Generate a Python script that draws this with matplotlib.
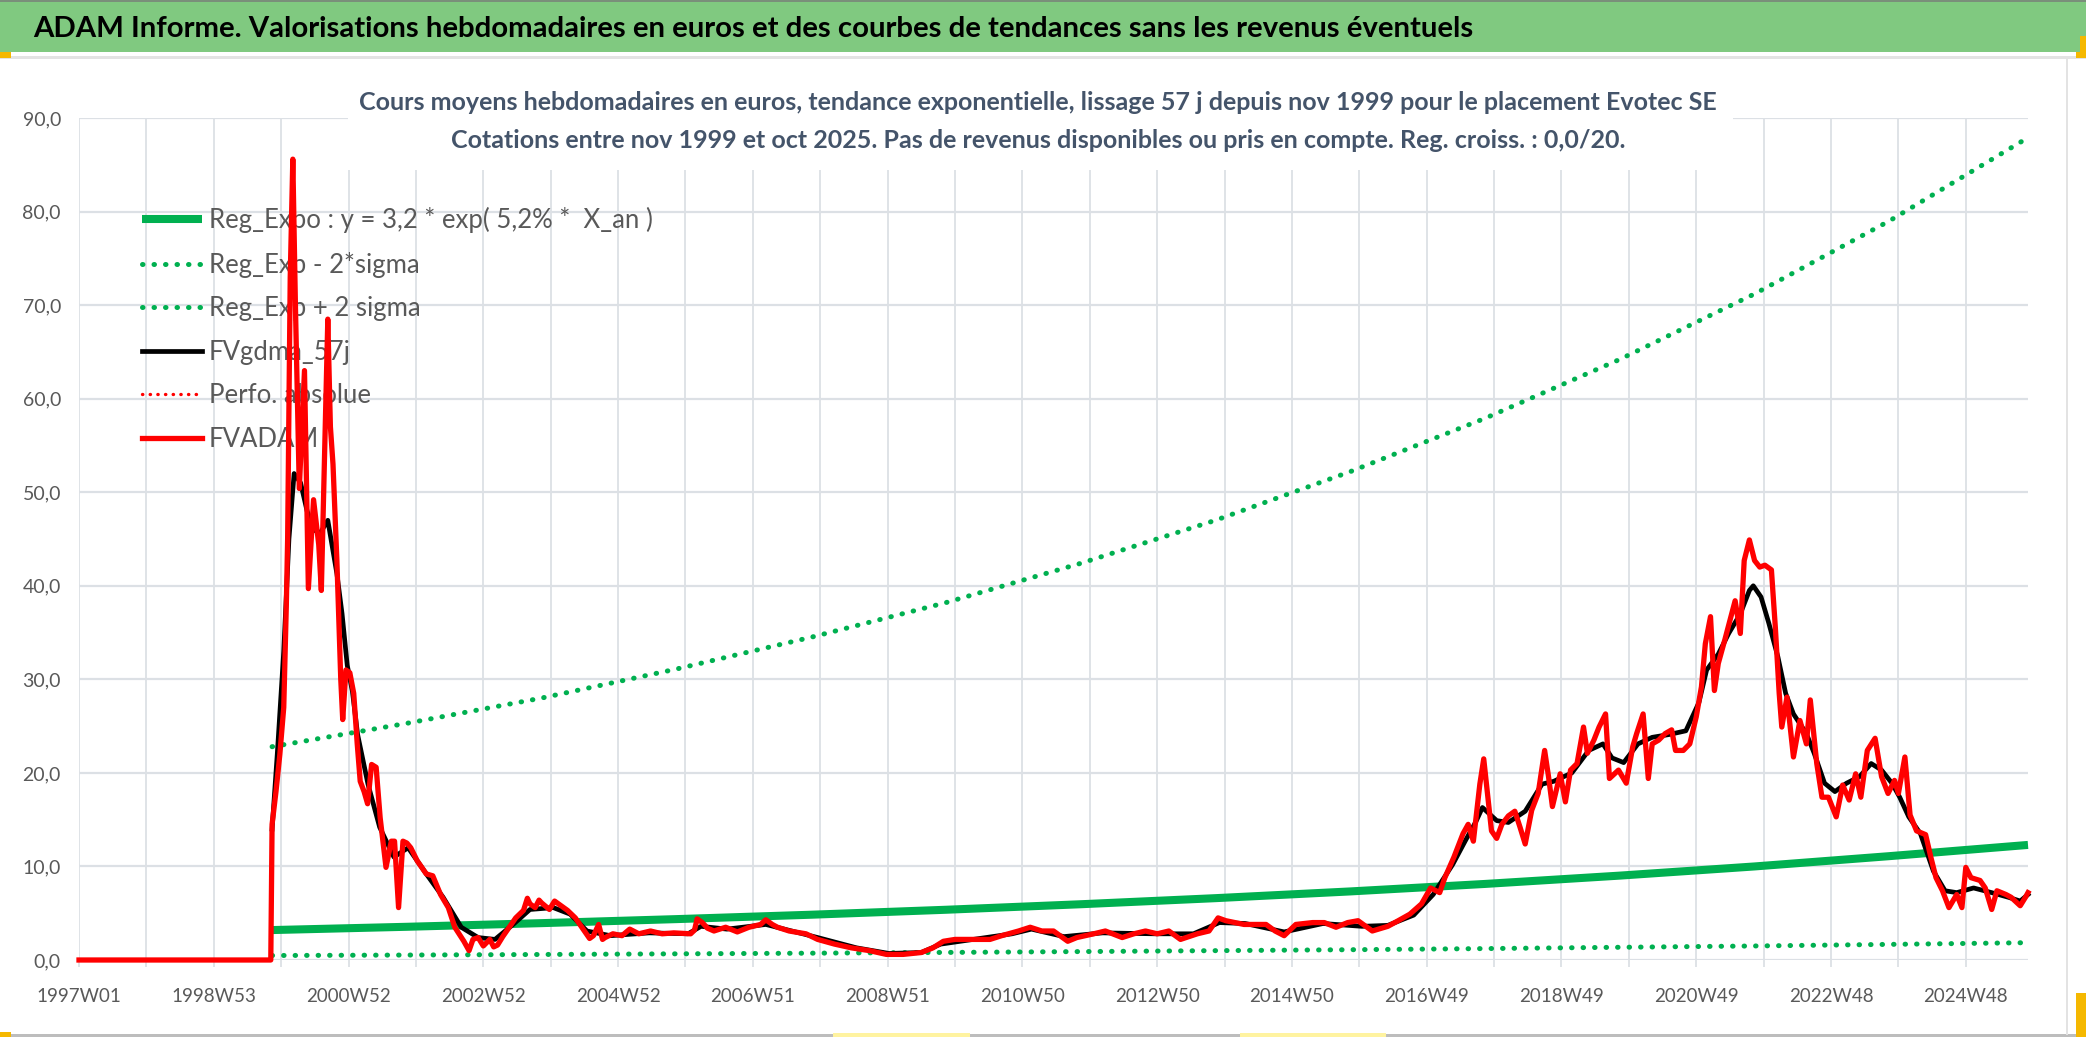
import matplotlib
matplotlib.use("Agg")
import matplotlib.pyplot as plt
from matplotlib import font_manager
from matplotlib.patches import Rectangle
from matplotlib.ticker import FixedLocator, FuncFormatter, MultipleLocator

# ---- données (x = numéro de semaine depuis 1997W01) ----
tick_labels = ["1997W01", "1998W53", "2000W52", "2002W52", "2004W52", "2006W51",
               "2008W51", "2010W50", "2012W50", "2014W50", "2016W49", "2018W49",
               "2020W49", "2022W48", "2024W48"]
n_weeks = 1504

fv_weeks = [0, 148, 149, 152, 155, 158, 160, 161, 163, 165, 167, 170, 174, 177, 181,
            185, 187, 192, 194, 196, 199, 202, 203.5, 206, 209, 212, 214.7, 217, 220,
            222.7, 225.8, 229.3, 232.4, 236.9, 241, 243.5, 246.6, 250, 253, 256, 261,
            268, 273, 279, 285, 290, 297, 301, 304, 308, 312, 317, 320, 323, 327, 330,
            337, 343, 346, 348, 352, 355, 357, 363, 367, 370, 377, 383, 390, 394, 397,
            401, 404, 406, 412, 419, 425, 432, 441, 450, 459, 472, 475, 477, 481, 485,
            490, 499, 508, 517, 526, 530, 535, 539, 548, 561, 570, 583, 596, 610, 623,
            636, 650, 659, 667, 676, 690, 703, 712, 725, 734, 743, 752, 763, 770, 783,
            792, 805, 814, 823, 832, 841, 850, 863, 872, 879, 885, 899, 916, 923, 930,
            939, 952, 961, 970, 979, 987, 998, 1010, 1018, 1027, 1036, 1043, 1050, 1054,
            1061, 1068, 1072, 1076, 1081, 1084, 1087, 1090, 1094, 1098, 1103, 1108, 1112,
            1116, 1121, 1126, 1131, 1134, 1137, 1143, 1147, 1151, 1156, 1161, 1164, 1169,
            1173, 1178, 1181, 1188, 1194, 1199, 1202, 1207, 1211, 1214, 1219, 1224, 1229,
            1232, 1238, 1243, 1248, 1252, 1255, 1259, 1262, 1265, 1270, 1274, 1278, 1282,
            1285, 1289, 1293, 1297, 1301, 1306, 1309, 1312, 1314, 1318, 1323, 1328, 1333,
            1336, 1341, 1345, 1350, 1356, 1361, 1366, 1371, 1375, 1380, 1386, 1391, 1396,
            1401, 1404, 1409, 1413, 1418, 1425, 1429, 1433, 1438, 1443, 1449, 1453, 1456,
            1460, 1467, 1471, 1476, 1480, 1487, 1491, 1498, 1502, 1504]
fv_values = [0, 0, 14.5, 18, 22, 27, 38, 45, 73, 85.6, 70, 50.4, 63, 39.7, 49.2,
             44.4, 39.5, 68.5, 57, 53, 42.7, 30, 25.7, 31, 30.7, 28.5, 23.1, 19.1, 18,
             16.7, 20.9, 20.6, 15.2, 9.9, 12.7, 12.7, 5.6, 12.7, 12.5, 12.0, 10.6,
             9.2, 9.0, 7.0, 5.6, 3.5, 2.0, 1.0, 2.2, 2.4, 1.5, 2.2, 1.4, 1.6, 2.5, 3.1,
             4.5, 5.3, 6.6, 6.0, 5.6, 6.4, 6.1, 5.4, 6.3, 6.0, 5.3, 4.5, 3.1, 2.3, 2.6,
             3.8, 2.2, 2.4, 2.8, 2.6, 3.3, 2.8, 3.1, 2.8, 2.9, 2.8, 3.2, 4.4, 4.0, 3.4,
             3.1, 3.5, 3.0, 3.5, 3.8, 4.3, 3.8, 3.5, 3.1, 2.8, 2.2, 1.7, 1.3, 1.0, 0.6,
             0.6, 0.8, 1.3, 2.0, 2.2, 2.2, 2.2, 2.6, 3.1, 3.5, 3.1, 3.1, 2.0, 2.4, 2.8,
             3.1, 2.4, 2.8, 3.1, 2.8, 3.1, 2.2, 2.8, 3.1, 4.5, 4.2, 3.8, 3.8, 3.1, 2.6,
             3.8, 4.0, 4.0, 3.5, 4.0, 4.2, 3.1, 3.6, 4.2, 4.9, 6.0, 7.7, 7.2, 8.8,
             11.0, 13.5, 14.5, 12.7, 18.8, 21.5, 17.7, 13.8, 13.0, 14.5, 15.4, 15.9, 14.2,
             12.4, 16.0, 17.8, 22.4, 19.6, 16.4, 19.9, 16.9, 20.3, 21.0, 24.9, 22.1, 23.5,
             24.9, 26.3, 19.4, 20.3, 18.9, 22.8, 24.2, 26.3, 19.4, 23.1, 23.5, 24.2, 24.6,
             22.4, 22.4, 23.1, 26.0, 29.2, 33.8, 36.7, 28.8, 31.7, 34.2, 36.3, 38.4, 34.9,
             42.7, 44.9, 42.7, 42.0, 42.2, 41.7, 35.6, 28.5, 24.9, 28.1, 21.7, 25.6, 23.1,
             27.8, 21.0, 17.4, 17.4, 15.3, 18.7, 17.1, 19.9, 17.4, 22.4, 23.7, 19.6, 17.8,
             19.2, 17.8, 21.7, 15.5, 13.8, 13.4, 11.0, 8.8, 7.4, 5.6, 7.0, 5.6, 9.9,
             8.8, 8.5, 7.7, 5.4, 7.4, 7.0, 6.7, 5.8, 6.7, 7.2]

gdma_weeks = [149, 153, 158, 162, 166, 171, 176, 181, 186, 192, 199, 203, 207, 211,
              215, 223, 232, 243, 254, 268, 281, 295, 308, 321, 335, 348, 366, 379, 392,
              410, 440, 470, 480, 500, 530, 550, 570, 600, 625, 650, 665, 690, 720, 735,
              760, 790, 830, 860, 880, 900, 930, 960, 990, 1010, 1030, 1045, 1060, 1070,
              1078, 1083, 1094, 1103, 1116, 1129, 1138, 1152, 1165, 1176, 1183, 1192, 1203,
              1214, 1227, 1240, 1250, 1256, 1265, 1273, 1282, 1289, 1292, 1298, 1304, 1311,
              1317, 1323, 1333, 1339, 1347, 1355, 1364, 1374, 1383, 1391, 1399, 1405, 1412,
              1421, 1431, 1440, 1449, 1462, 1476, 1489, 1498, 1504]
gdma_values = [14, 22, 33, 45, 52, 51, 48, 46, 45.6, 47, 41.3, 37, 31.5, 28.7,
               24.1, 18.8, 14.2, 11, 12, 9.2, 6.7, 3.5, 2.4, 2.2, 3.8, 5.4, 5.6, 4.9, 3.1,
               2.6, 2.9, 2.8, 3.6, 3.3, 3.8, 3.1, 2.4, 1.3, 0.7, 0.8, 1.7, 2.2, 2.8, 3.3,
               2.5, 2.9, 2.8, 2.8, 4.0, 3.9, 3.0, 3.9, 3.6, 3.7, 4.8, 7.0, 10.2, 12.8,
               14.8, 16.3, 14.9, 14.7, 15.9, 18.8, 19.1, 20.0, 22.4, 23.1, 21.6, 21.1, 23.1,
               23.8, 24.1, 24.5, 27.5, 31.0, 32.7, 34.9, 37.0, 39.5, 40.0, 38.8, 36.0, 32.4,
               28.5, 26.3, 24.2, 22.1, 18.9, 18.0, 18.9, 19.6, 21.0, 20.3, 18.9, 17.4, 15.3,
               13.5, 9.5, 7.4, 7.2, 7.7, 7.2, 6.7, 6.3, 7.0]

reg_weeks = [149, 253, 357, 461, 565, 669, 773, 877, 981, 1085, 1189, 1293, 1397, 1504]
reg_expo = [3.2, 3.55, 3.94, 4.37, 4.84, 5.37, 5.96, 6.61, 7.33, 8.13, 9.02, 10.0, 11.1, 12.3]
reg_minus = [0.48, 0.53, 0.59, 0.66, 0.73, 0.81, 0.90, 1.00, 1.10, 1.22, 1.36, 1.50, 1.67, 1.85]
reg_plus = [22.8, 25.3, 28.0, 31.1, 34.5, 38.2, 42.4, 47.0, 52.2, 57.9, 64.2, 71.2, 79.0, 87.9]

labels = ["Reg_Expo : y = 3,2 * exp( 5,2% *  X_an )", "Reg_Exp - 2*sigma",
          "Reg_Exp + 2 sigma", "FVgdma_57j", "Perfo. absolue", "FVADAM"]

title = ("ADAM Informe. Valorisations hebdomadaires en euros et des courbes de "
         "tendances sans les revenus éventuels")
subtitle1 = ("Cours moyens hebdomadaires en euros, tendance exponentielle, lissage 57 j "
             "depuis nov 1999 pour le placement Evotec SE")
subtitle2 = ("Cotations entre nov 1999 et oct 2025. Pas de revenus disponibles ou pris "
             "en compte. Reg. croiss. : 0,0/20.")

# ---- style ----
names = {f.name for f in font_manager.fontManager.ttflist}
FONT = "Lato" if "Lato" in names else "DejaVu Sans"
plt.rcParams["font.family"] = [FONT, "DejaVu Sans"]

GREEN = "#00B050"
RED = "#FF0000"
GRID = "#DCE0E5"
TXT = "#595959"
SUB = "#44546A"

W, H = 2086, 1037
fig = plt.figure(figsize=(W / 100, H / 100), dpi=100)


def fx(px):
    return px / W


def fy(py):
    return 1 - py / H


# bandeau de titre et cadre
fig.patches.append(Rectangle((0, fy(52)), 1, 52 / H, transform=fig.transFigure,
                             facecolor="#80C980", edgecolor="none"))
fig.patches.append(Rectangle((0, fy(2)), 1, 2 / H, transform=fig.transFigure,
                             facecolor="#7A8F7A", edgecolor="none"))
fig.patches.append(Rectangle((0, fy(59)), 1, 3 / H, transform=fig.transFigure,
                             facecolor="#E3E3E3", edgecolor="none"))
fig.patches.append(Rectangle((0, fy(1037)), 1, 3 / H, transform=fig.transFigure,
                             facecolor="#BDBDBD", edgecolor="none"))
fig.patches.append(Rectangle((fx(2066), fy(1035)), 2 / W, (1035 - 59) / H,
                             transform=fig.transFigure, facecolor="#E3E3E3",
                             edgecolor="none"))
for x0, y0, w, h, c in [(0, 58, 11, 6, "#F5B800"), (2076, 58, 10, 6, "#F5B800"),
                        (2080, 52, 6, 16, "#F5B800"), (2076, 1037, 10, 44, "#F5B800"),
                        (0, 1037, 11, 5, "#F5B800"), (833, 1037, 137, 4, "#FFF3A0"),
                        (1240, 1037, 146, 4, "#FFF3A0")]:
    fig.patches.append(Rectangle((fx(x0), fy(y0)), w / W, h / H,
                                 transform=fig.transFigure, facecolor=c,
                                 edgecolor="none"))

fig.text(fx(33), fy(29), title, fontsize=21.2, fontweight="bold", color="black",
         ha="left", va="center")

ax = fig.add_axes([fx(79), fy(960), fx(2028 - 79), (960 - 118) / H])

ax.plot(reg_weeks, reg_expo, color=GREEN, lw=5.8, solid_capstyle="butt",
        label=labels[0], zorder=2, clip_on=False)
ax.plot(reg_weeks, reg_minus, color=GREEN, lw=3.6, linestyle=(0, (0.1, 2.2)),
        dash_capstyle="round", label=labels[1], zorder=2.1, clip_on=False)
ax.plot(reg_weeks, reg_plus, color=GREEN, lw=3.6, linestyle=(0, (0.1, 2.2)),
        dash_capstyle="round", label=labels[2], zorder=2.1, clip_on=False)
ax.plot(gdma_weeks, gdma_values, color="black", lw=3.4, label=labels[3],
        zorder=2.3, clip_on=False)
ax.plot(fv_weeks, fv_values, color=RED, lw=2.4, linestyle=(0, (0.1, 2.2)),
        dash_capstyle="round", label=labels[4], zorder=2.2, clip_on=False)
ax.plot(fv_weeks, fv_values, color=RED, lw=3.8, label=labels[5], zorder=2.5,
        clip_on=False)

ax.set_xlim(0, n_weeks)
ax.set_ylim(0, 90)
ax.xaxis.set_major_locator(FixedLocator([104 * i for i in range(len(tick_labels))]))
ax.set_xticklabels(tick_labels)
ax.xaxis.set_minor_locator(MultipleLocator(52))
ax.yaxis.set_major_locator(MultipleLocator(10))
ax.yaxis.set_major_formatter(FuncFormatter(lambda v, p: f"{v:.1f}".replace(".", ",")))
ax.grid(True, which="both", axis="x", color=GRID, lw=1.3)
ax.grid(True, which="major", axis="y", color=GRID, lw=1.6)
ax.tick_params(axis="x", which="both", length=5, width=1.3, color=GRID)
ax.tick_params(axis="x", which="major", pad=15.5, labelsize=13.5, labelcolor=TXT)
ax.tick_params(axis="y", length=0, pad=13, labelsize=14, labelcolor=TXT)
for s in ax.spines.values():
    s.set_visible(False)

# cadre blanc du sous-titre (cache la grille)
box = Rectangle((fx(348), fy(170)), (1733 - 348) / W, (170 - 110) / H,
                transform=fig.transFigure, facecolor="white", edgecolor="none",
                zorder=1.7, clip_on=False)
ax.add_patch(box)
fig.text(fx(1038), fy(103), subtitle1, fontsize=18, fontweight="bold", color=SUB,
         ha="center", va="center")
fig.text(fx(1038), fy(140), subtitle2, fontsize=18, fontweight="bold", color=SUB,
         ha="center", va="center")

leg = ax.legend(loc="upper left", bbox_to_anchor=(fx(142), fy(207)),
                bbox_transform=fig.transFigure, frameon=False, fontsize=18.5,
                handlelength=2.35, handletextpad=0.25, labelspacing=0.72,
                borderpad=0, borderaxespad=0)
for t in leg.get_texts():
    t.set_color(TXT)
leg.set_zorder(1.8)

fig.savefig("out.png", dpi=100)
